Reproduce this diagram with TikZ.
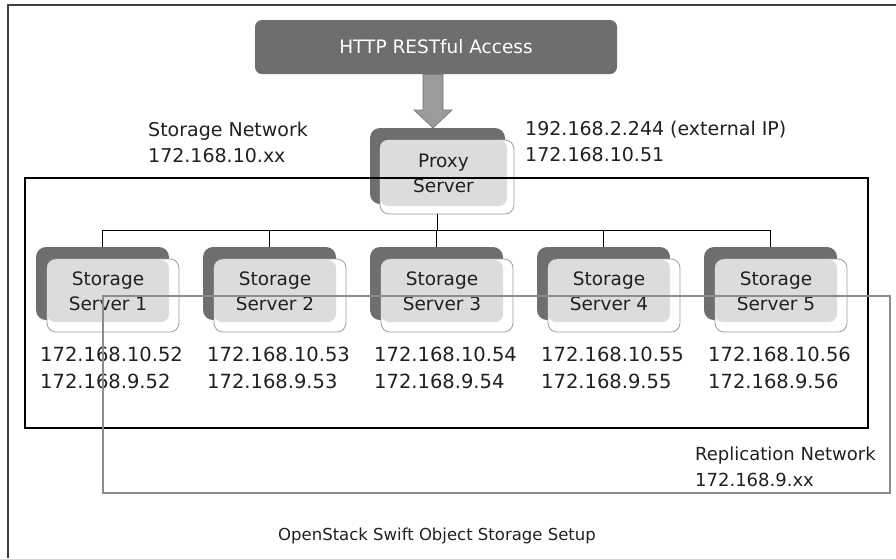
\documentclass[tikz,border=0pt]{standalone}
\usepackage{fontspec}
\setmainfont{DejaVu Sans}
\definecolor{darkbox}{HTML}{6D6E70}
\definecolor{lightbox}{HTML}{DCDCDD}
\definecolor{replgrey}{HTML}{8C8C8C}
\definecolor{arrowgrey}{HTML}{9B9B9B}
\definecolor{txt}{HTML}{231F20}
\begin{document}
\begin{tikzpicture}[x=1pt,y=-1pt,
  frame/.style={draw=black!75,line width=2pt},
  httpbox/.style={draw=none,fill=darkbox,rounded corners=7pt,minimum width=362pt,minimum height=54pt,
    text=white,font=\fontsize{18.5}{22}\selectfont,inner sep=0pt},
  backbox/.style={draw=none,fill=darkbox,rounded corners=10pt,inner sep=0pt},
  ghostbox/.style={draw=black!38,line width=0.8pt,fill=white,rounded corners=9pt,inner sep=0pt},
  frontbox/.style={draw=none,fill=lightbox,rounded corners=8pt,inner sep=0pt,align=center,
    text=txt,font=\fontsize{18.5}{25}\selectfont},
  tree/.style={draw=black,line width=1pt},
  inner/.style={draw=black,line width=1.2pt},
  repl/.style={draw=replgrey,line width=1.6pt},
  label/.style={anchor=west,inner sep=0pt,text=txt,align=left},
  iplabel/.style={label,font=\fontsize{19.5}{27}\selectfont},
  netlabel/.style={label,font=\fontsize{19}{26}\selectfont},
]
\useasboundingbox (0,0) rectangle (896,558);
% outer frame
\coordinate (fa) at (896,5);
\coordinate (fb) at (8,5);
\coordinate (fc) at (8,558);
\draw[frame] (fa) -- (fb) -- (fc);

% HTTP box
\node[httpbox] (http) at (436,47) {HTTP RESTful Access};

% proxy server
\node[backbox,minimum width=135pt,minimum height=76pt] (pxd) at (437.5,166) {};
\node[ghostbox,minimum width=134pt,minimum height=74pt] (pxo) at (447,177) {};
\node[frontbox,minimum width=127pt,minimum height=66pt] (px) at (443.5,173) {Proxy\\Server};

% block arrow from HTTP box to proxy
\draw[draw=black!55,fill=arrowgrey,line width=0.6pt]
  ([xshift=-10pt]http.south -| 433,0) -- (423,110) -- (414,110) -- (433,128)
  -- (452,110) -- (443,110) -- ([xshift=10pt]http.south -| 433,0) -- cycle;

% storage servers
\foreach \i/\c/\n in {1/108/52,2/275/53,3/442/54,4/609/55,5/776/56}{
  \node[backbox,minimum width=133pt,minimum height=73pt] (sd\i) at ({\c-5.5},283.5) {};
  \node[ghostbox,minimum width=132pt,minimum height=73pt] (so\i) at ({\c+5},295.5) {};
  \node[frontbox,minimum width=122pt,minimum height=62pt] (s\i) at (\c,291) {Storage\\Server \i};
  \coordinate (bus\i) at ({\c-6},230);
  \node[iplabel] (ip\i) at ({\c-68},367.5) {172.168.10.\n\\172.168.9.\n};
}

% inner storage network rectangle
\coordinate (ia) at (25,178);
\coordinate (ib) at (868,428);
\draw[inner] (ia) rectangle (ib);

% tree connectors
\coordinate (j0) at (437,230);
\draw[tree] (j0 |- pxo.south) -- (j0);
\draw[tree] (bus1) -- (bus5);
\foreach \i in {1,...,5}{
  \draw[tree] (bus\i) -- (bus\i |- sd\i.north);
}

% replication network loop
\coordinate (ra) at (103,296);
\coordinate (rb) at (890,493);
\draw[repl] (ra) rectangle (rb);

% labels
\node[netlabel] (sn) at (148,142) {Storage Network\\172.168.10.xx};
\node[netlabel] (ext) at (525,141.5) {192.168.2.244 (external IP)\\172.168.10.51};
\node[label,font=\fontsize{18}{26}\selectfont] (rn) at (695,467) {Replication Network\\172.168.9.xx};
\node[text=txt,inner sep=0pt,font=\fontsize{16.5}{20}\selectfont] (cap) at (437,536) {OpenStack Swift Object Storage Setup};
\end{tikzpicture}
\end{document}
